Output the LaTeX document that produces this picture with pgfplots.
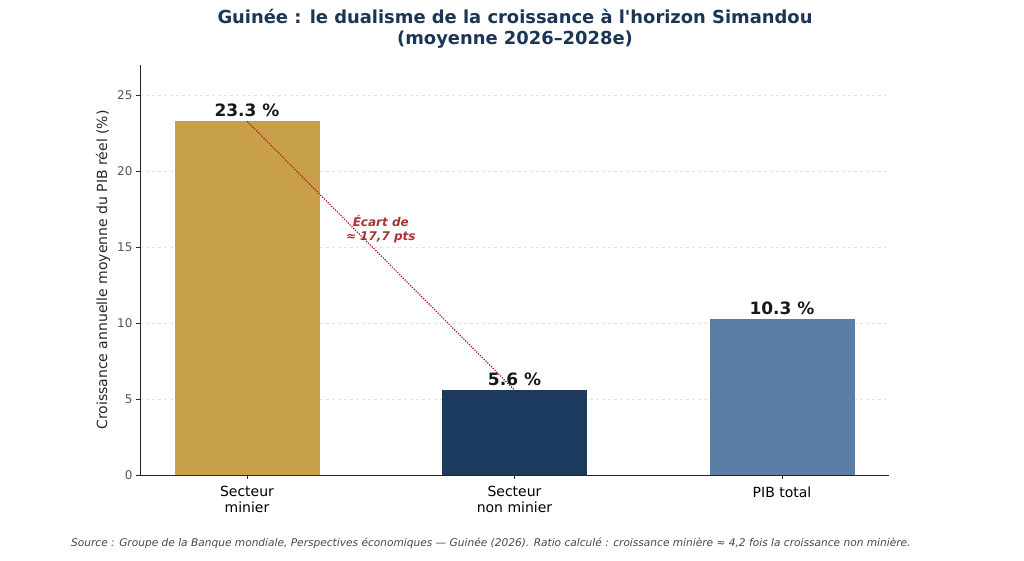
\documentclass[border=0pt]{standalone}
\usepackage{pgfplots}
\pgfplotsset{compat=1.18}
\usepackage{fontspec}
\setmainfont{DejaVu Sans}
\definecolor{gold}{HTML}{C8A04A}
\definecolor{navy}{HTML}{1C3A5D}
\definecolor{steel}{HTML}{5B7EA6}
\definecolor{titlec}{HTML}{1B3557}
\definecolor{redann}{HTML}{A83232}
\definecolor{redline}{HTML}{B01E1E}
\definecolor{tickc}{HTML}{555555}
\begin{document}
\begin{tikzpicture}[x=1pt,y=1pt]
\path[use as bounding box] (0,0) rectangle (1024,561);
\begin{axis}[
  at={(140pt,86pt)}, anchor=south west,
  scale only axis, width=749pt, height=410pt,
  xmin=-0.4, xmax=2.4, ymin=0, ymax=27,
  axis x line*=bottom, axis y line*=left,
  axis line style={color=black!85, line width=0.9pt, -},
  xtick={0,1,2},
  xticklabels={{Secteur\\minier},{Secteur\\non minier},{PIB total}},
  xticklabel style={align=center, font=\fontsize{14}{15.5}\selectfont, text=black, yshift=-4pt},
  ytick={0,5,10,15,20,25},
  yticklabel style={font=\fontsize{12}{14}\selectfont, text=tickc},
  /pgf/number format/assume math mode=true,
  tick align=outside, major tick length=4pt,
  tick style={color=black!85, line width=0.8pt},
  ymajorgrids, grid style={dashed, color=gray!22, line width=0.6pt},
  ylabel={Croissance annuelle moyenne du PIB réel (\%)},
  every axis y label/.style={at={(axis description cs:-0.0494,0.5)}, rotate=90, anchor=center, font=\fontsize{14}{16}\selectfont, text=black!85},
  nodes near coords={\pgfmathprintnumber[fixed,precision=1,fixed zerofill]{\pgfplotspointmeta}~\%},
  every node near coord/.append style={font=\bfseries\fontsize{17}{19}\selectfont, text=black!90, anchor=south, inner sep=4pt},
]
\addplot[ybar, bar width=145pt, bar shift=0pt, fill=gold, draw=none] coordinates {(0,23.3)};
\addplot[ybar, bar width=145pt, bar shift=0pt, fill=navy, draw=none] coordinates {(1,5.6)};
\addplot[ybar, bar width=145pt, bar shift=0pt, fill=steel, draw=none] coordinates {(2,10.3)};
\addplot[dash pattern=on 1.3pt off 1.3pt, color=redline, line width=1.2pt, nodes near coords={}, forget plot] coordinates {(0,23.3) (1,5.6)};
\node[align=center, text=redann, font=\bfseries\itshape\fontsize{12}{14}\selectfont] at (axis cs:0.5,16.2) {Écart de\\≈ 17,7 pts};
\end{axis}
\node[align=center, text=titlec, font=\bfseries\fontsize{17.9}{20.5}\selectfont] at (515,532) {Guinée : le dualisme de la croissance à l\textquotesingle horizon Simandou\\(moyenne 2026–2028e)};
\node[anchor=west, inner sep=0pt, text=black!72, font=\itshape\fontsize{10.6}{12}\selectfont] at (71,18) {Source : Groupe de la Banque mondiale, Perspectives économiques — Guinée (2026). Ratio calculé : croissance minière ≈ 4,2 fois la croissance non minière.};
\end{tikzpicture}
\end{document}
